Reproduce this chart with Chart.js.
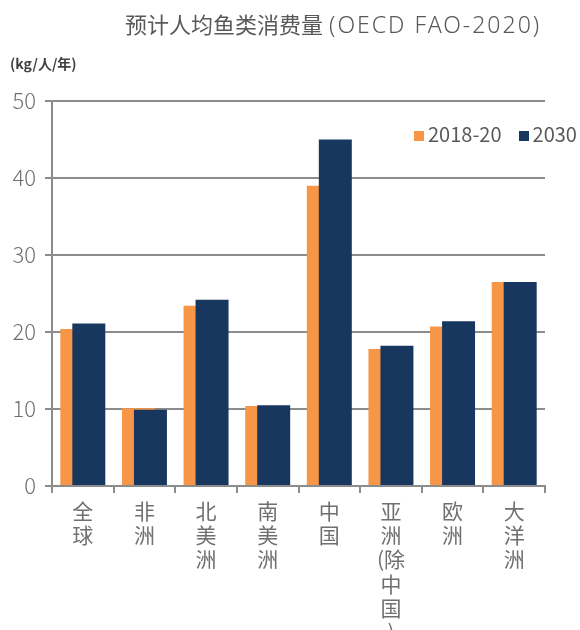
<!DOCTYPE html>
<html>
<head>
<meta charset="utf-8">
<script src="https://cdn.jsdelivr.net/npm/chart.js@4.4.1/dist/chart.umd.min.js"></script>
<style>
  body { margin: 0; background: #fff; }
  #wrap { position: relative; width: 580px; height: 630px; overflow: hidden; font-family: "Noto Sans CJK SC", sans-serif; }
  #myChart { position: absolute; left: 0; top: 0; }
  #title { position: absolute; left: 125px; top: 7px; color: #595959; font-size: 22px; white-space: nowrap; }
  #title span { margin-left: 6px; font-family: "Noto Sans", sans-serif; font-size: 23px; font-weight: 300; letter-spacing: 2px; }
  #unit { position: absolute; left: 10px; top: 53px; color: #404040; font-size: 14px; font-weight: bold; }
  #legend { position: absolute; left: 414px; top: 119px; color: #595959; font-size: 20px; white-space: nowrap; }
  #legend .sw { display: inline-block; width: 10px; height: 10px; margin-right: 4px; vertical-align: 1px; }
  #legend .item { margin-right: 17px; }
</style>
</head>
<body>
<div id="wrap">
  <canvas id="myChart" width="580" height="630"></canvas>
  <div id="title">预计人均鱼类消费量<span>(OECD FAO-2020)</span></div>
  <div id="unit">(kg/人/年)</div>
  <div id="legend"></div>
</div>
<script>
const regions = ['全球', '非洲', '北美洲', '南美洲', '中国', '亚洲(除中国)', '欧洲', '大洋洲'];
const seriesNames = ['2018-20', '2030'];
const values2018 = [20.4, 10.1, 23.4, 10.4, 39.0, 17.8, 20.7, 26.5];
const values2030 = [21.1, 9.9, 24.2, 10.5, 45.0, 18.2, 21.4, 26.5];
const yTicks = [0, 10, 20, 30, 40, 50];

const orange = '#F79646';
const navy = '#17375E';
const gridGray = '#8c8c8c';

// stacked vertical text, one char per line, "(" kept with the next char
function stackChars(s) {
  const out = [];
  let pending = '';
  for (const ch of Array.from(s)) {
    if (ch === '(') { pending = ch; continue; }
    out.push(pending + ch);
    pending = '';
  }
  return out;
}
const labels = regions.map(stackChars);

// legend
document.getElementById('legend').innerHTML =
  seriesNames.map((n, i) =>
    `<span class="item"><span class="sw" style="background:${i ? navy : orange}"></span>${n}</span>`
  ).join('');

// excel-like overlap: shift the two bar series a bit apart
const overlapShift = {
  id: 'overlapShift',
  afterDatasetsUpdate(chart) {
    chart.data.datasets.forEach((ds, i) => {
      chart.getDatasetMeta(i).data.forEach(bar => { bar.x += ds.shift; });
    });
  }
};

let ctx = document.getElementById('myChart');
let myChart = new Chart(ctx, {
  type: 'bar',
  data: {
    labels: labels,
    datasets: [{
      label: seriesNames[0],
      data: values2018,
      backgroundColor: orange,
      shift: -6,
      order: 2
    }, {
      label: seriesNames[1],
      data: values2030,
      backgroundColor: navy,
      shift: 6,
      order: 1
    }]
  },
  options: {
    responsive: false,
    animation: false,
    layout: {
      padding: { top: 101, right: 35, bottom: 0, left: 0 }
    },
    datasets: {
      bar: {
        grouped: false,
        categoryPercentage: 1,
        barPercentage: 0.535
      }
    },
    scales: {
      y: {
        min: 0,
        max: 50,
        afterFit: (scale) => { scale.width = 52; },
        afterBuildTicks: (scale) => { scale.ticks = yTicks.map(v => ({ value: v })); },
        grid: { color: gridGray, lineWidth: 2, tickLength: 7 },
        border: { color: gridGray, width: 2 },
        ticks: {
          padding: 9,
          color: '#707070',
          font: { family: '"Noto Sans CJK SC", sans-serif', size: 22, weight: 300 }
        }
      },
      x: {
        afterFit: (scale) => { scale.height = 144; },
        grid: { drawOnChartArea: false, color: gridGray, lineWidth: 2, tickLength: 7, offset: true },
        border: { color: gridGray, width: 2 },
        ticks: {
          autoSkip: false,
          maxRotation: 0,
          padding: 6,
          color: '#707070',
          font: { family: '"Noto Sans CJK SC", sans-serif', size: 21, lineHeight: 1.15 }
        }
      }
    },
    plugins: {
      legend: { display: false },
      tooltip: { enabled: false }
    }
  },
  plugins: [overlapShift]
});
</script>
</body>
</html>
